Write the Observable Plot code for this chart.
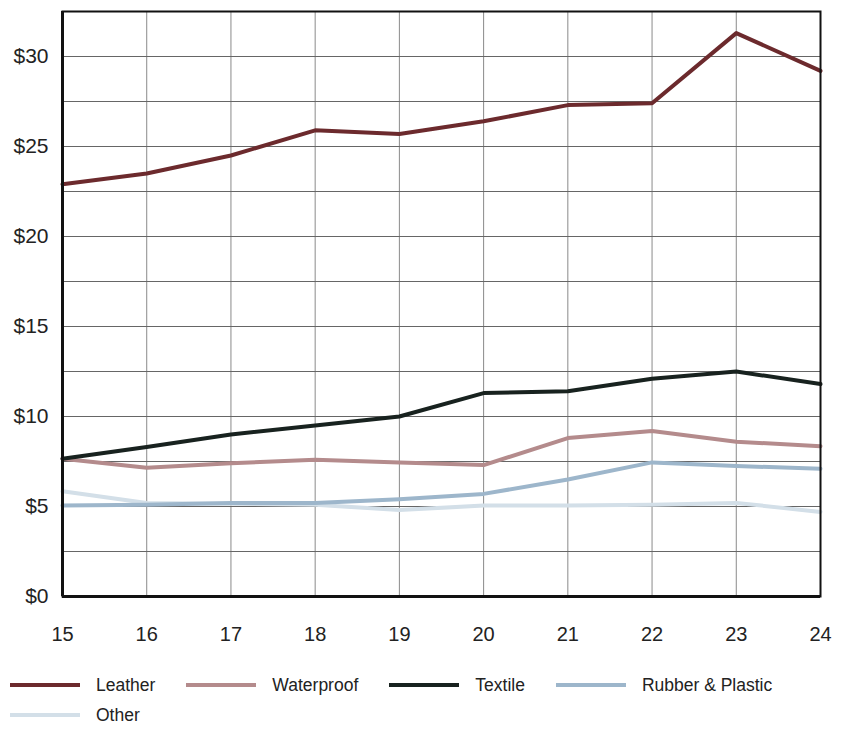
<!DOCTYPE html>
<html>
<head>
<meta charset="utf-8">
<script src="https://cdn.jsdelivr.net/npm/d3@7"></script>
<script src="https://cdn.jsdelivr.net/npm/@observablehq/plot@0.6"></script>
<style>
  body { margin: 0; background: #fff; font-family: "Liberation Sans", Arial, sans-serif; }
  #chart { width: 841px; }
  .legend { display: flex; flex-wrap: wrap; column-gap: 31px; row-gap: 8px; padding: 14px 0 0 10px; width: 800px; }
  .item { display: flex; align-items: center; font-size: 17.5px; color: #222; height: 22px; }
  .item svg { margin-right: 16px; }
</style>
</head>
<body>
<div id="chart"></div>
<script>
const years = [15, 16, 17, 18, 19, 20, 21, 22, 23, 24];
const leather = [22.9, 23.5, 24.5, 25.9, 25.7, 26.4, 27.3, 27.4, 31.3, 29.2];
const waterproof = [7.65, 7.15, 7.4, 7.6, 7.45, 7.3, 8.8, 9.2, 8.6, 8.35];
const textile = [7.65, 8.3, 9.0, 9.5, 10.0, 11.3, 11.4, 12.1, 12.5, 11.8];
const rubberPlastic = [5.05, 5.1, 5.2, 5.2, 5.4, 5.7, 6.5, 7.45, 7.25, 7.1];
const other = [5.85, 5.2, 5.15, 5.1, 4.8, 5.05, 5.05, 5.1, 5.2, 4.7];
const seriesNames = ["Leather", "Waterproof", "Textile", "Rubber & Plastic", "Other"];
const seriesColors = ["#6c2a2d", "#b48b8c", "#18221f", "#9db6cb", "#d3dfe8"];
const yTicks = [0, 5, 10, 15, 20, 25, 30];
const yGrid = [2.5, 5, 7.5, 10, 12.5, 15, 17.5, 20, 22.5, 25, 27.5, 30];

const seriesValues = [leather, waterproof, textile, rubberPlastic, other];
const rows = [];
seriesNames.forEach((name, i) => {
  years.forEach((yr, j) => rows.push({series: name, year: yr, value: seriesValues[i][j]}));
});
const drawOrder = ["Other", "Rubber & Plastic", "Waterproof", "Textile", "Leather"];

const chart = Plot.plot({
  width: 841,
  height: 660,
  marginTop: 11,
  marginBottom: 64,
  marginLeft: 62,
  marginRight: 21,
  style: {fontFamily: "Liberation Sans, Arial, sans-serif", fontSize: "20px", background: "#fff", color: "#222"},
  x: {domain: [15, 24], label: null},
  y: {domain: [0, 32.5], label: null},
  color: {domain: seriesNames, range: seriesColors},
  marks: [
    Plot.gridX(years, {stroke: "#8a8a8a", strokeOpacity: 1, strokeWidth: 1}),
    Plot.gridY(yGrid, {stroke: "#666", strokeOpacity: 1, strokeWidth: 1}),
    Plot.axisX(years, {tickSize: 0, tickPadding: 30, tickFormat: d => String(d), label: null, fontSize: 20}),
    Plot.axisY(yTicks, {tickSize: 0, tickPadding: 14, tickFormat: d => "$" + d, label: null, fontSize: 21}),
    ...drawOrder.map(name => Plot.line(rows.filter(r => r.series === name), {
      x: "year", y: "value", stroke: "series", strokeWidth: 4, strokeLinejoin: "round", strokeLinecap: "round"
    })),
    Plot.frame({stroke: "#111", strokeWidth: 2}),
    Plot.ruleX([15], {stroke: "#111", strokeWidth: 3}),
    Plot.ruleY([0], {stroke: "#111", strokeWidth: 3})
  ]
});
document.getElementById("chart").appendChild(chart);

const legend = document.createElement("div");
legend.className = "legend";
seriesNames.forEach((name, i) => {
  const item = document.createElement("div");
  item.className = "item";
  item.innerHTML = `<svg width="70" height="6"><line x1="0" y1="3" x2="70" y2="3" stroke="${seriesColors[i]}" stroke-width="4"/></svg><span>${name.replace("&", "&amp;")}</span>`;
  legend.appendChild(item);
});
document.getElementById("chart").appendChild(legend);
</script>
</body>
</html>
